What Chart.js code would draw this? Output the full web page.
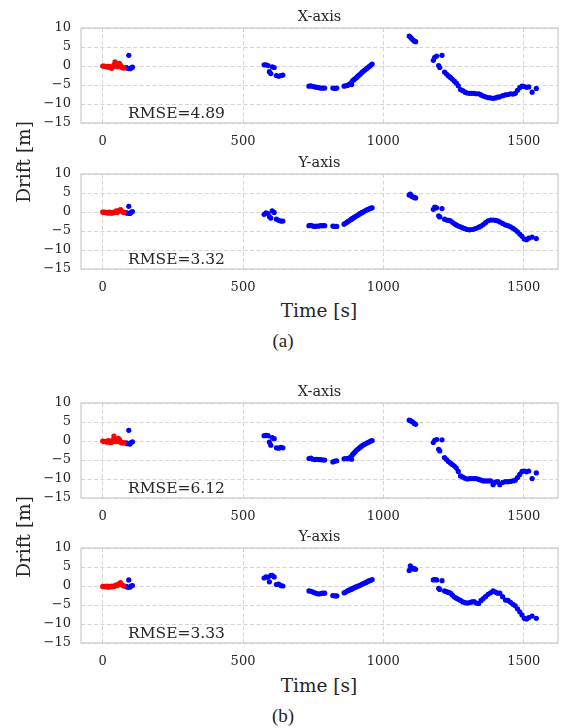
<!DOCTYPE html>
<html>
<head>
<meta charset="utf-8">
<script src="https://cdn.jsdelivr.net/npm/chart.js@4.4.0/dist/chart.umd.min.js"></script>
<style>
  body { margin: 0; background: #fff; width: 566px; height: 728px; position: relative; overflow: hidden;
         font-family: 'DejaVu Serif', serif; color: #262626; }
  canvas { position: absolute; left: 0; }
  .lbl { position: absolute; white-space: nowrap; line-height: 1; }
</style>
</head>
<body>
<canvas id="p1" width="566" height="149" style="top:0px"></canvas>
<canvas id="p2" width="566" height="149" style="top:146px"></canvas>
<canvas id="p3" width="566" height="149" style="top:375px"></canvas>
<canvas id="p4" width="566" height="149" style="top:520px"></canvas>

<div class="lbl" style="left:24px;top:162px;font-size:18.5px;transform:translate(-50%,-50%) rotate(-90deg)">Drift [m]</div>
<div class="lbl" style="left:319px;top:302px;font-size:18.5px;transform:translateX(-50%)">Time [s]</div>
<div class="lbl" style="left:283px;top:331px;font-size:19px;font-family:'Liberation Serif',serif;transform:translateX(-50%)">(a)</div>
<div class="lbl" style="left:24px;top:537px;font-size:18.5px;transform:translate(-50%,-50%) rotate(-90deg)">Drift [m]</div>
<div class="lbl" style="left:319px;top:677px;font-size:18.5px;transform:translateX(-50%)">Time [s]</div>
<div class="lbl" style="left:283px;top:706px;font-size:19px;font-family:'Liberation Serif',serif;transform:translateX(-50%)">(b)</div>

<script>
// axis ticks
const xTicks = [0, 500, 1000, 1500];
const yTicks = [-15, -10, -5, 0, 5, 10];

// time stamps [s]
const redTime = [0, 4, 8, 12, 16, 20, 24, 28, 32, 36, 40, 44, 48, 52, 56, 60, 64, 68, 72, 76];
const blueTime1 = [84, 88, 93, 97, 101, 106];
const blueTime2 = [575, 582, 589, 594, 599, 604, 611, 619, 627, 635, 642];
const blueTime3 = [735, 742, 749, 756, 763, 770, 777, 784, 791, 820, 827, 834, 860, 866, 872, 878, 884, 887,
                   890, 895, 900, 905, 910, 915, 920, 925, 930, 935, 940, 945, 950, 955, 960];
const blueTime4 = [1092, 1096, 1100, 1105, 1110, 1115];
const blueTime5 = [1178, 1183, 1190, 1197, 1201, 1209, 1218, 1225, 1232, 1239, 1246, 1253, 1260, 1267, 1275,
                   1283, 1291, 1299, 1307, 1315, 1323, 1331, 1340, 1348, 1356, 1364, 1373, 1382, 1391, 1399,
                   1407, 1415, 1425, 1435, 1444, 1453, 1462, 1470, 1478, 1486, 1494, 1502, 1510, 1518, 1530, 1545];

// (a) X-axis
const aXRed = [0.0, 0.0, -0.1, -0.2, -0.1, -0.3, -0.1, -0.4, -0.6, -0.2, 0.3, 1.1, 0.6, -0.2, 0.3, 0.7, 0.2, -0.4, -0.5, -0.5];
const aXBlue1 = [-0.4, -0.6, 2.8, -0.7, -0.5, -0.3];
const aXBlue2 = [0.3, 0.3, 0.1, -1.5, -2.0, -0.2, -0.4, -2.5, -2.7, -2.5, -2.4];
const aXBlue3 = [-5.3, -5.2, -5.4, -5.5, -5.6, -5.7, -5.8, -5.8, -5.8, -5.8, -5.9, -5.8, -5.3, -5.2, -5.1, -4.8, -4.5, -4.9,
                 -3.9, -3.6, -3.3, -3.0, -2.6, -2.3, -2.0, -1.6, -1.3, -1.0, -0.7, -0.4, -0.1, 0.2, 0.5];
const aXBlue4 = [7.9, 7.6, 7.3, 6.9, 6.6, 6.4];
const aXBlue5 = [1.5, 2.3, 2.6, 0.1, -0.4, 2.8, -1.6, -2.1, -2.6, -3.0, -3.5, -4.0, -4.5, -5.2, -6.2, -6.5, -6.9, -7.1,
                 -7.2, -7.2, -7.2, -7.3, -7.3, -7.6, -7.9, -8.1, -8.3, -8.4, -8.5, -8.4, -8.2, -8.1, -7.8, -7.6, -7.5,
                 -7.3, -7.4, -7.2, -6.4, -5.7, -5.3, -5.4, -5.6, -5.5, -6.9, -5.9];

// (a) Y-axis
const aYRed = [0.0, -0.1, 0.0, -0.2, -0.1, -0.3, 0.0, -0.2, -0.3, -0.1, -0.2, 0.0, 0.3, -0.1, 0.2, 0.5, 0.6, 0.2, 0.0, -0.1];
const aYBlue1 = [-0.2, -0.3, 1.5, -0.4, -0.1, 0.1];
const aYBlue2 = [-0.6, -0.2, -0.4, -1.2, -1.6, 0.3, -0.1, -1.9, -2.2, -2.4, -2.4];
const aYBlue3 = [-3.6, -3.5, -3.7, -3.8, -3.7, -3.7, -3.6, -3.6, -3.6, -3.7, -3.8, -3.8, -3.2, -2.9, -2.6, -2.3, -2.0, -1.9,
                 -1.7, -1.5, -1.2, -1.0, -0.8, -0.5, -0.3, -0.1, 0.1, 0.3, 0.5, 0.7, 0.8, 1.0, 1.1];
const aYBlue4 = [4.5, 4.7, 4.2, 4.0, 3.8, 3.7];
const aYBlue5 = [0.7, 1.3, 1.1, -1.0, -1.3, 0.9, -1.9, -2.1, -2.2, -2.3, -2.7, -3.1, -3.4, -3.7, -3.9, -4.2, -4.4, -4.6,
                 -4.7, -4.6, -4.5, -4.3, -4.0, -3.7, -3.3, -2.8, -2.3, -2.1, -2.1, -2.2, -2.3, -2.6, -3.0, -3.4, -3.6,
                 -3.9, -4.3, -4.7, -5.2, -5.8, -6.4, -7.1, -7.3, -6.9, -6.6, -7.0];

// (b) X-axis
const bXRed = [0.0, -0.1, -0.2, -0.1, -0.3, 0.1, -0.2, -0.4, -0.3, 0.3, 1.3, 0.6, -0.2, 0.1, 0.7, 0.4, -0.3, -0.5, -0.4, -0.5];
const bXBlue1 = [-0.5, -0.7, 2.8, -0.8, -0.4, -0.2];
const bXBlue2 = [1.4, 1.5, 1.4, -0.3, -1.1, 0.9, 0.6, -1.8, -1.9, -1.7, -1.8];
const bXBlue3 = [-4.6, -4.5, -4.8, -4.9, -4.8, -4.9, -4.9, -5.0, -5.0, -5.5, -5.3, -5.2, -4.7, -4.6, -4.7, -4.5, -4.2, -4.8,
                 -3.6, -3.2, -2.8, -2.4, -2.1, -1.8, -1.5, -1.2, -1.0, -0.8, -0.6, -0.4, -0.2, 0.0, 0.1];
const bXBlue4 = [5.5, 5.4, 5.2, 5.0, 4.6, 4.4];
const bXBlue5 = [-0.4, 0.2, 0.4, -2.2, -2.6, 0.3, -4.4, -4.9, -5.4, -5.8, -6.2, -6.6, -7.1, -8.0, -9.2, -9.5, -9.8, -10.0,
                 -9.9, -9.9, -9.9, -9.9, -10.1, -10.3, -10.5, -10.5, -10.5, -10.5, -11.5, -10.8, -10.7, -11.5, -10.9,
                 -10.7, -10.7, -10.6, -10.5, -10.3, -9.6, -8.8, -8.0, -7.9, -8.1, -7.9, -9.9, -8.4];

// (b) Y-axis
const bYRed = [-0.1, -0.2, -0.1, -0.2, 0.0, -0.3, -0.1, -0.2, 0.0, -0.2, -0.1, 0.1, 0.3, 0.1, 0.4, 0.7, 0.9, 0.4, 0.1, 0.0];
const bYBlue1 = [-0.1, -0.3, 1.6, -0.3, 0.0, 0.1];
const bYBlue2 = [2.1, 2.4, 2.3, 1.1, 2.8, 2.8, 2.4, 0.4, 0.5, 0.1, 0.0];
const bYBlue3 = [-1.3, -1.4, -1.6, -1.8, -2.0, -2.1, -2.0, -1.9, -1.9, -2.5, -2.6, -2.6, -1.8, -1.6, -1.3, -1.1, -0.9, -0.8,
                 -0.7, -0.5, -0.3, -0.2, 0.0, 0.1, 0.3, 0.5, 0.7, 0.8, 1.0, 1.2, 1.4, 1.5, 1.7];
const bYBlue4 = [4.1, 5.3, 4.9, 4.5, 4.6, 4.4];
const bYBlue5 = [1.6, 1.7, 1.6, -0.6, -0.9, 1.4, -1.3, -1.5, -1.7, -1.9, -2.4, -2.9, -3.2, -3.5, -3.8, -4.2, -4.4, -4.5,
                 -4.4, -4.2, -4.1, -4.5, -4.6, -3.8, -3.3, -2.8, -2.2, -1.8, -1.3, -1.6, -1.9, -1.9, -2.8, -3.7, -3.8,
                 -4.3, -4.8, -5.2, -6.0, -6.8, -7.6, -8.5, -8.7, -8.3, -7.9, -8.5];

const panels = [
  { id: 'p1', title: 'X-axis', rmse: 'RMSE=4.89', red: aXRed, blue: [aXBlue1, aXBlue2, aXBlue3, aXBlue4, aXBlue5] },
  { id: 'p2', title: 'Y-axis', rmse: 'RMSE=3.32', red: aYRed, blue: [aYBlue1, aYBlue2, aYBlue3, aYBlue4, aYBlue5] },
  { id: 'p3', title: 'X-axis', rmse: 'RMSE=6.12', red: bXRed, blue: [bXBlue1, bXBlue2, bXBlue3, bXBlue4, bXBlue5] },
  { id: 'p4', title: 'Y-axis', rmse: 'RMSE=3.33', red: bYRed, blue: [bYBlue1, bYBlue2, bYBlue3, bYBlue4, bYBlue5] }
];

const blueTimes = [blueTime1, blueTime2, blueTime3, blueTime4, blueTime5];

function pairUp(times, vals) {
  return times.map((t, i) => ({ x: t, y: vals[i] }));
}

function fmt(v) {
  return v < 0 ? '\u2212' + Math.abs(v) : String(v);
}

// title above, RMSE note inside, light frame around the axes
const panelText = {
  id: 'panelText',
  afterDraw(chart, args, opts) {
    const { ctx, chartArea } = chart;
    ctx.save();
    ctx.strokeStyle = '#cccccc';
    ctx.lineWidth = 1.25;
    ctx.strokeRect(chartArea.left, chartArea.top, chartArea.width, chartArea.height);
    ctx.fillStyle = '#262626';
    ctx.textBaseline = 'alphabetic';
    ctx.font = '14.5px "DejaVu Serif"';
    ctx.textAlign = 'center';
    ctx.fillText(opts.title, (chartArea.left + chartArea.right) / 2, chartArea.top - 7);
    ctx.font = '15.5px "DejaVu Serif"';
    ctx.textAlign = 'left';
    ctx.fillText(opts.rmse, chartArea.left + 47, chartArea.bottom - 5);
    ctx.restore();
  }
};

const font = { family: "'DejaVu Serif', serif", size: 13 };

panels.forEach(p => {
  const bluePts = [];
  p.blue.forEach((vals, k) => bluePts.push(...pairUp(blueTimes[k], vals)));

  new Chart(document.getElementById(p.id), {
    type: 'scatter',
    data: {
      datasets: [
        { data: pairUp(redTime, p.red), backgroundColor: '#ff0000', pointRadius: 2.6, pointBorderWidth: 0 },
        { data: bluePts, backgroundColor: '#0000ff', pointRadius: 2.6, pointBorderWidth: 0 }
      ]
    },
    options: {
      responsive: false,
      animation: false,
      devicePixelRatio: 1,
      layout: { padding: { left: 0, right: 8, top: 28, bottom: 0 } },
      plugins: {
        legend: { display: false },
        tooltip: { enabled: false },
        panelText: { title: p.title, rmse: p.rmse }
      },
      scales: {
        x: {
          type: 'linear',
          min: -77.25,
          max: 1622.25,
          afterBuildTicks: s => { s.ticks = xTicks.map(v => ({ value: v })); },
          afterFit: s => { s.height = 26; },
          ticks: { font, color: '#262626', padding: 11, maxRotation: 0, callback: v => fmt(v) },
          grid: { color: '#d4d4d4', lineWidth: 1, drawTicks: false },
          border: { display: false, dash: [4, 2.5] }
        },
        y: {
          min: -15,
          max: 10,
          afterBuildTicks: s => { s.ticks = yTicks.map(v => ({ value: v })); },
          afterFit: s => { s.width = 81; },
          ticks: { font, color: '#262626', padding: 10, callback: v => fmt(v) },
          grid: { color: '#d4d4d4', lineWidth: 1, drawTicks: false },
          border: { display: false, dash: [4, 2.5] }
        }
      }
    },
    plugins: [panelText]
  });
});
</script>
</body>
</html>
